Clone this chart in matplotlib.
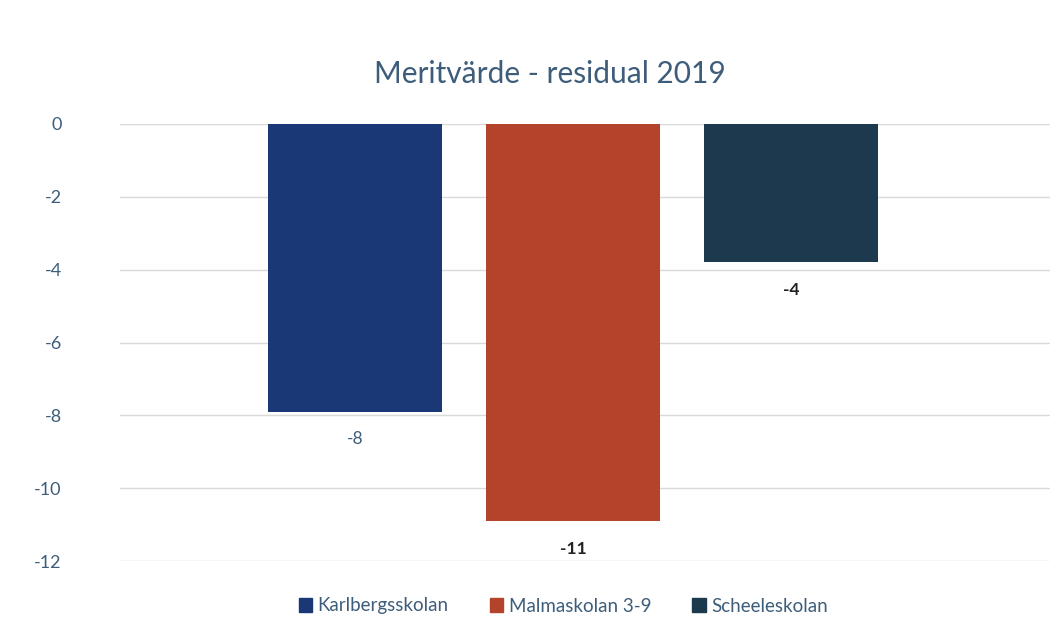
import numpy as np
import matplotlib
matplotlib.use("Agg")
import matplotlib.pyplot as plt

plt.rcParams['font.family'] = ['Lato', 'DejaVu Sans']

# data
schools = ['Karlbergsskolan', 'Malmaskolan 3-9', 'Scheeleskolan']
residual = [-7.9, -10.9, -3.8]
label_bold = [False, True, True]
colors = ['#1b3876', '#b3442b', '#1c394e']
yticks = [0, -2, -4, -6, -8, -10, -12]

text_col = '#3d5d7a'

fig = plt.figure(figsize=(10.57, 6.4), dpi=100)
ax = fig.add_axes([120 / 1057, 1 - 561 / 640, (1050 - 120) / 1057, (561 - 124) / 640])

x = np.arange(len(schools))
bars = ax.bar(x, residual, width=0.8, color=colors, zorder=3, label=schools)

for xi, val, bold in zip(x, residual, label_bold):
    ax.annotate(f'{val:.0f}', (xi, val), xytext=(0, -20), textcoords='offset points',
                ha='center', va='center', fontsize=12.5,
                fontweight='bold' if bold else 'normal', color='#222222' if bold else text_col)

ax.set_ylim(-12, 0)
ax.set_xlim(-1.08, 3.19)
ax.set_yticks(yticks)
ax.set_yticklabels([f'{t}' for t in yticks], color=text_col, fontsize=13)
ax.tick_params(axis='y', length=0, pad=42)
ax.tick_params(axis='x', length=0, labelbottom=False)
ax.yaxis.grid(True, color='#d9d9d9', linewidth=1, zorder=0)
for s in ax.spines.values():
    s.set_visible(False)

fig.suptitle('Meritvärde - residual 2019', x=0.52, y=0.907, fontsize=21.5, color=text_col)

handles = [plt.Rectangle((0, 0), 1, 1, color=c) for c in colors]
fig.legend(handles, schools, loc='center', bbox_to_anchor=(0.533, 1 - 606 / 640), ncol=3,
           frameon=False, fontsize=13.5, handlelength=0.7, handleheight=0.7,
           handletextpad=0.3, columnspacing=2.2, labelcolor=text_col)

fig.savefig('out.png', dpi=100, facecolor='white')
